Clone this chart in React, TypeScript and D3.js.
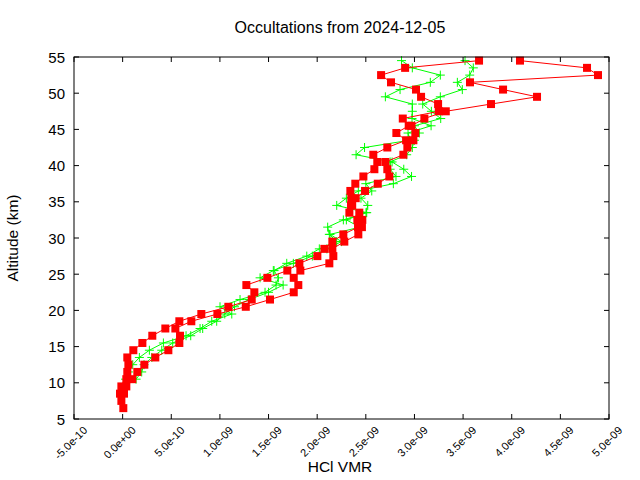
import React from "react";
import * as d3 from "d3";

const TITLE = "Occultations from 2024-12-05";
const X_LABEL = "HCl VMR";
const Y_LABEL = "Altitude (km)";

const xTicks = [-5e-10, 0, 5e-10, 1e-9, 1.5e-9, 2e-9, 2.5e-9, 3e-9, 3.5e-9, 4e-9, 4.5e-9, 5e-9];
const xTickLabels = ["-5.0e-10", "0.0e+00", "5.0e-10", "1.0e-09", "1.5e-09", "2.0e-09", "2.5e-09", "3.0e-09", "3.5e-09", "4.0e-09", "4.5e-09", "5.0e-09"];
const yTicks = [5, 10, 15, 20, 25, 30, 35, 40, 45, 50, 55];

// Red occultation A (altitudes 6.5 .. 54.5 km), values in 1e-9
const redAAlt = d3.range(6.5, 55, 1);
const redAVal = [
  0.007, -0.013, -0.027, -0.013, 0.038, 0.048, 0.059, 0.048, 0.110, 0.203,
  0.305, 0.439, 0.583, 0.809, 1.087, 1.327, 1.354, 1.272, 1.488, 1.693,
  1.817, 2.002, 2.074, 2.156, 2.269, 2.420, 2.413, 2.331, 2.348, 2.351,
  2.341, 2.392, 2.475, 2.588, 2.618, 2.577, 2.721, 2.914, 2.814, 2.941,
  2.880, 3.250, 3.243, 3.068, 3.016, 2.759, 2.657, 2.904, 3.664,
];

// Red occultation B (altitudes 8.5 .. 54.5 km)
const redBAlt = d3.range(8.5, 55, 1);
const redBVal = [
  0.014, 0.038, 0.100, 0.151, 0.223, 0.336, 0.470, 0.583, 0.590, 0.542,
  0.706, 0.974, 1.266, 1.515, 1.759, 1.806, 1.759, 1.827, 2.125, 2.166,
  2.156, 2.279, 2.423, 2.460, 2.464, 2.433, 2.360, 2.396, 2.492, 2.623,
  2.742, 2.721, 2.701, 2.886, 2.927, 2.989, 3.009, 2.970, 3.102, 3.322,
  3.787, 4.260, 3.911, 3.571, 4.887, 4.774, 4.085,
];

// Green occultation A (altitudes 10.5 .. 54.5 km)
const greenAAlt = d3.range(10.5, 55, 1);
const greenAVal = [
  0.030, 0.060, 0.104, 0.172, 0.275, 0.419, 0.652, 0.796, 0.916, 1.122,
  1.001, 1.207, 1.464, 1.577, 1.601, 1.557, 1.687, 1.893, 2.022, 2.200,
  2.125, 2.108, 2.269, 2.509, 2.201, 2.300, 2.423, 2.783, 2.970, 2.890,
  2.770, 2.400, 2.487, 2.950, 2.934, 3.171, 2.975, 2.978, 2.978, 2.701,
  2.852, 3.163, 3.266, 2.978, 2.867,
];

// Green occultation B (altitudes 10.5 .. 54.5 km)
const greenBVal = [
  0.138, 0.196, 0.220, 0.300, 0.402, 0.515, 0.700, 0.823, 0.967, 1.050,
  1.150, 1.300, 1.500, 1.650, 1.413, 1.549, 1.755, 1.950, 2.100, 2.250,
  2.132, 2.440, 2.300, 2.502, 2.520, 2.450, 2.561, 2.500, 2.810, 2.750,
  2.750, 2.920, 2.978, 3.000, 3.050, 3.000, 3.270, 3.174, 3.085, 3.266,
  3.492, 3.441, 3.568, 3.605, 3.520,
];

const W = 640;
const H = 480;
const M = { left: 74, right: 31, top: 57, bottom: 61 };

const FONT = "'Liberation Sans', Arial, sans-serif";

type Pt = { v: number; a: number };

function makePts(alts: number[], vals: number[]): Pt[] {
  return vals.map((v, i) => ({ v: v * 1e-9, a: alts[i] }));
}

export default function App() {
  const x = d3.scaleLinear().domain([-5e-10, 5e-9]).range([M.left, W - M.right]);
  const y = d3.scaleLinear().domain([5, 55]).range([H - M.bottom, M.top]);
  const line = d3
    .line<Pt>()
    .x((d) => x(d.v))
    .y((d) => y(d.a));

  const series = [
    { pts: makePts(greenAAlt, greenAVal), color: "#00ff00", marker: "plus" },
    { pts: makePts(greenAAlt, greenBVal), color: "#00ff00", marker: "plus" },
    { pts: makePts(redAAlt, redAVal), color: "#ff0000", marker: "square" },
    { pts: makePts(redBAlt, redBVal), color: "#ff0000", marker: "square" },
  ];

  const x0 = M.left;
  const x1 = W - M.right;
  const y0 = H - M.bottom;
  const y1 = M.top;
  const tl = 5;

  return (
    <svg
      width={W}
      height={H}
      style={{ position: "absolute", left: 0, top: 0, background: "#fff" }}
      fontFamily={FONT}
    >
      <rect width={W} height={H} fill="#fff" />
      <text x={340} y={33} textAnchor="middle" fontSize={16} fill="#000">
        {TITLE}
      </text>
      {series.map((s, i) => (
        <g key={i}>
          <path d={line(s.pts) || ""} fill="none" stroke={s.color} strokeWidth={1} />
          {s.pts.map((p, j) =>
            s.marker === "square" ? (
              <rect key={j} x={x(p.v) - 4} y={y(p.a) - 4} width={8} height={8} fill={s.color} />
            ) : (
              <path
                key={j}
                d={`M${x(p.v) - 4.5},${y(p.a)}h9M${x(p.v)},${y(p.a) - 4.5}v9`}
                stroke={s.color}
                strokeWidth={1}
              />
            )
          )}
        </g>
      ))}
      <g stroke="#000" strokeWidth={1} fill="none">
        <rect x={x0} y={y1} width={x1 - x0} height={y0 - y1} />
        {xTicks.map((t, i) => (
          <path key={"xt" + i} d={`M${x(t)},${y0}v${-tl}M${x(t)},${y1}v${tl}`} />
        ))}
        {yTicks.map((t, i) => (
          <path key={"yt" + i} d={`M${x0},${y(t)}h${tl}M${x1},${y(t)}h${-tl}`} />
        ))}
      </g>
      {yTicks.map((t, i) => (
        <text key={"yl" + i} x={x0 - 9} y={y(t) + 5.5} textAnchor="end" fontSize={15} fill="#000">
          {t}
        </text>
      ))}
      {xTicks.map((t, i) => (
        <text
          key={"xl" + i}
          transform={`translate(${x(t) + 14},${y0 + 12}) rotate(-45)`}
          textAnchor="end"
          fontSize={11}
          fill="#000"
        >
          {xTickLabels[i]}
        </text>
      ))}
      <text x={340} y={472} textAnchor="middle" fontSize={15.5} fill="#000">
        {X_LABEL}
      </text>
      <text
        transform={`translate(18,238) rotate(-90)`}
        textAnchor="middle"
        fontSize={15.5}
        fill="#000"
      >
        {Y_LABEL}
      </text>
    </svg>
  );
}
